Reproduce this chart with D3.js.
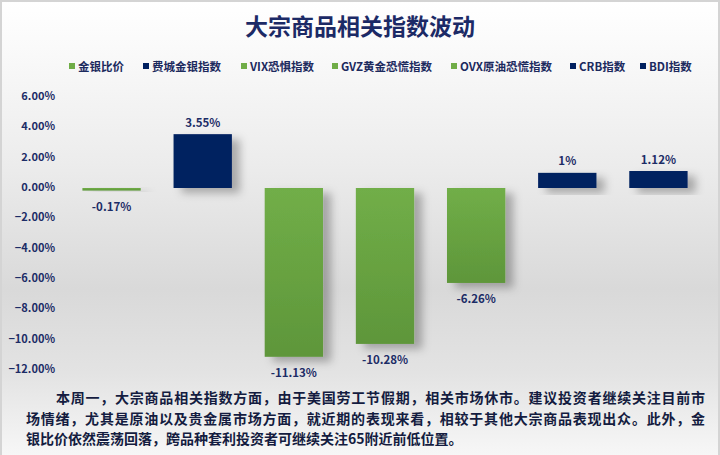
<!DOCTYPE html>
<html><head><meta charset="utf-8">
<script src="https://cdn.jsdelivr.net/npm/d3@7"></script>
<style>
html,body{margin:0;padding:0;background:#fff;}
svg{display:block;}
text{font-family:"Noto Sans CJK SC","Noto Sans",sans-serif;}
</style></head>
<body>
<script>
const categories = ["金银比价","费城金银指数","VIX恐惧指数","GVZ黄金恐慌指数","OVX原油恐慌指数","CRB指数","BDI指数"];
const values = [-0.17, 3.55, -11.13, -10.28, -6.26, 1.0, 1.12];
const valueLabels = ["-0.17%","3.55%","-11.13%","-10.28%","-6.26%","1%","1.12%"];
const seriesColor = ["green","navy","green","green","green","navy","navy"];
const yTicks = [6,4,2,0,-2,-4,-6,-8,-10,-12];
const title = "大宗商品相关指数波动";
const noteLines = [
  "本周一，大宗商品相关指数方面，由于美国劳工节假期，相关市场休市。建议投资者继续关注目前市",
  "场情绪，尤其是原油以及贵金属市场方面，就近期的表现来看，相较于其他大宗商品表现出众。此外，金",
  "银比价依然震荡回落，跨品种套利投资者可继续关注65附近前低位置。"
];

const W = 720, H = 455;
const svg = d3.select("body").append("svg").attr("width", W).attr("height", H);
const defs = svg.append("defs");

const bg = defs.append("linearGradient").attr("id","bg").attr("x1",0).attr("y1",0).attr("x2",0).attr("y2",1);
[[0,"#ffffff"],[0.1,"#fafafa"],[0.35,"#ececec"],[0.62,"#d9d9d9"],[0.8,"#e3e3e3"],[1,"#f9f9f9"]]
  .forEach(([o,c]) => bg.append("stop").attr("offset",o).attr("stop-color",c));

const gg = defs.append("linearGradient").attr("id","green").attr("x1",0).attr("y1",0).attr("x2",0).attr("y2",1);
gg.append("stop").attr("offset",0).attr("stop-color","#71ae48");
gg.append("stop").attr("offset",1).attr("stop-color","#5e963a");

const sh = defs.append("filter").attr("id","shadow").attr("x","-20%").attr("y","-20%").attr("width","160%").attr("height","160%");
sh.append("feDropShadow").attr("dx",8).attr("dy",5).attr("stdDeviation",4)
  .attr("flood-color","#000").attr("flood-opacity",0.28);

svg.append("rect").attr("x",1).attr("y",1).attr("width",W-2).attr("height",H+10)
  .attr("fill","url(#bg)").attr("stroke","#d4d4d4").attr("stroke-width",2);

// title
svg.append("text").attr("x",360).attr("y",25).attr("text-anchor","middle").attr("dominant-baseline","central")
  .attr("font-size",23).attr("font-weight","bold").attr("fill","#1c2a66").text(title);

// scales
const x = d3.scaleBand().domain(categories).range([66,704]).paddingInner(0.36).paddingOuter(0.18);
const y = d3.scaleLinear().domain([-12,6]).range([370,97]);
const fill = c => c === "green" ? "url(#green)" : "#002060";
const swatch = c => c === "green" ? "#70ad47" : "#002060";
const labelColor = "#1c2c66";

// y axis labels
const yAxis = d3.axisLeft(y).tickValues(yTicks).tickSize(0).tickPadding(0)
  .tickFormat(d => d3.format(".2f")(d) + "%");
const ya = svg.append("g").attr("transform","translate(55,0)").call(yAxis);
ya.select(".domain").remove();
ya.selectAll("text").attr("font-size",11).attr("font-weight","bold").attr("fill",labelColor)
  .attr("font-family","'Open Sans','DejaVu Sans',sans-serif").attr("dy","0.32em").attr("y",-1);

// bars
const data = categories.map((c,i) => ({c, v: values[i], lab: valueLabels[i], s: seriesColor[i]}));
svg.append("g").selectAll("rect").data(data).join("rect")
  .attr("x", d => x(d.c))
  .attr("width", x.bandwidth())
  .attr("y", d => Math.min(y(0), y(d.v)))
  .attr("height", d => Math.max(Math.abs(y(d.v) - y(0)), 2.6))
  .attr("fill", d => fill(d.s))
  .attr("filter","url(#shadow)");

// value labels
svg.append("g").selectAll("text").data(data).join("text")
  .attr("x", d => x(d.c) + x.bandwidth()/2)
  .attr("y", d => d.v >= 0 ? y(d.v) - 12.5 : Math.max(y(d.v), y(0) + 2.6) + 15)
  .attr("text-anchor","middle").attr("dominant-baseline","central")
  .attr("font-size",11.5).attr("font-weight","bold").attr("fill",labelColor)
  .attr("font-family","'Open Sans','DejaVu Sans',sans-serif")
  .text(d => d.lab);

// legend
const legendX = [69,143,241,332,451,570,640];
const lg = svg.append("g").selectAll("g").data(data).join("g")
  .attr("transform",(d,i) => `translate(${legendX[i]},66)`);
lg.append("rect").attr("x",0).attr("y",-3).attr("width",6).attr("height",6).attr("fill", d => swatch(d.s));
lg.append("text").attr("x",9).attr("y",0).attr("dominant-baseline","central")
  .attr("font-size",11.5).attr("font-weight","bold").attr("fill","#1c2a5e").text(d => d.c);

// note
const noteY = [397, 418, 438];
const nt = svg.append("g");
noteLines.forEach((t,i) => {
  const tx = nt.append("text").attr("x", i === 0 ? 56 : 26).attr("y", noteY[i])
    .attr("dominant-baseline","central").attr("font-size",14).attr("font-weight","bold")
    .attr("fill","#141c40").text(t);
  if (i < 2) tx.attr("textLength", i === 0 ? 649 : 679).attr("lengthAdjust","spacing");
});
</script>
</body></html>
